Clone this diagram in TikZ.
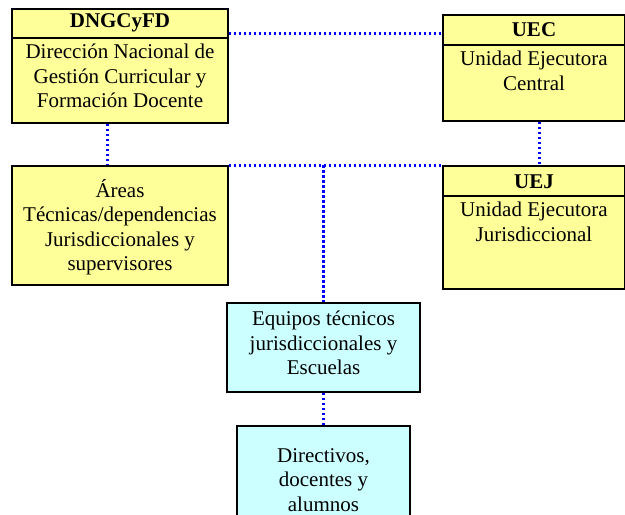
\documentclass[tikz,border=0pt]{standalone}
\usepackage{fontspec}
\setmainfont{Liberation Serif}
\begin{document}
\begin{tikzpicture}[x=1pt,y=-1pt,
  box/.style={draw=black,line width=1.8pt,inner sep=0pt,anchor=center},
  ybox/.style={box,fill=yellowfill},
  cbox/.style={box,fill=cyanfill},
  txt/.style={font=\fontsize{21}{24.5}\selectfont,align=center,inner sep=0pt},
  ttl/.style={font=\fontsize{21}{24.5}\selectfont\bfseries,inner sep=0pt},
  conn/.style={draw=linkblue,line width=3pt,dash pattern=on 2.4pt off 2.6pt}]
\definecolor{yellowfill}{HTML}{FFFF99}
\definecolor{cyanfill}{HTML}{CCFFFF}
\definecolor{linkblue}{HTML}{0000FF}
\useasboundingbox (0,0) rectangle (625,515);
\clip (0,0) rectangle (625,515);

% yellow boxes
\node[ybox,minimum width=216pt,minimum height=114pt] (dng) at (120,66) {};
\draw[line width=1.8pt] (12,38) -- (228,38);
\node[ttl] (dngt) at (120,23) {DNGCyFD};
\node[txt] (dngb) at (120,76) {Dirección Nacional de\\Gestión Curricular y\\Formación Docente};

\node[ybox,minimum width=182pt,minimum height=106pt] (uec) at (534,68) {};
\draw[line width=1.8pt] (443,45) -- (625,45);
\node[ttl] (uect) at (534,30) {UEC};
\node[txt] (uecb) at (534,71) {Unidad Ejecutora\\Central};

\node[ybox,minimum width=182pt,minimum height=123pt] (uej) at (534,227.5) {};
\draw[line width=1.8pt] (443,196) -- (625,196);
\node[ttl] (uejt) at (534,182) {UEJ};
\node[txt] (uejb) at (534,222) {Unidad Ejecutora\\Jurisdiccional};

\node[ybox,minimum width=216pt,minimum height=119pt] (areas) at (120,225.5) {};
\node[txt] (areast) at (120,227) {Áreas\\Técnicas/dependencias\\Jurisdiccionales y\\supervisores};

% cyan boxes
\node[cbox,minimum width=193pt,minimum height=89pt] (equipos) at (323.5,347.5) {};
\node[txt] (equipost) at (323.5,343) {Equipos técnicos\\jurisdiccionales y\\Escuelas};

\node[cbox,minimum width=173pt,minimum height=110pt] (dir) at (323.5,481) {};
\node[txt] (dirt) at (323.5,480) {Directivos,\\docentes y\\alumnos};

% connectors
\draw[conn] (dng.east |- 0,33) -- (uec.west |- 0,33);
\draw[conn] ([xshift=-13pt]dng.south) -- ([xshift=-13pt]dng.south |- areas.north);
\draw[conn] ([xshift=5pt]uec.south) -- ([xshift=5pt]uec.south |- uej.north);
\draw[conn] (areas.north east) -- (uej.north west);
\draw[conn] (equipos.north |- areas.north) -- (equipos.north);
\draw[conn] (equipos.south) -- (dir.north);
\end{tikzpicture}
\end{document}
